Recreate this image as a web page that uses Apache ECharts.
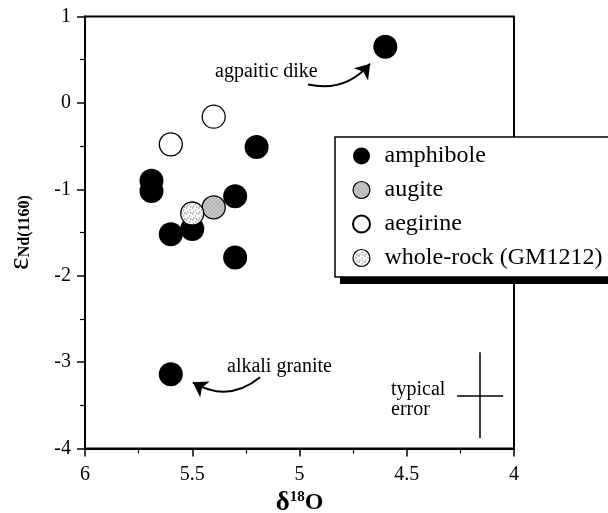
<!DOCTYPE html>
<html>
<head>
<meta charset="utf-8">
<script src="https://cdn.jsdelivr.net/npm/echarts@6/dist/echarts.min.js"></script>
<style>
html,body{margin:0;padding:0;background:#fff;}
#chart{width:608px;height:513px;}
</style>
</head>
<body>
<div id="chart"></div>
<script>
// ---- data ----
var legendNames = ['amphibole', 'augite', 'aegirine', 'whole-rock (GM1212)'];
var amphiboleX = [4.60, 5.69, 5.69, 5.20, 5.30, 5.50, 5.60, 5.30, 5.60];
var amphiboleY = [0.65, -0.90, -1.02, -0.51, -1.08, -1.46, -1.52, -1.79, -3.14];
var augiteX = [5.40];
var augiteY = [-1.21];
var aegirineX = [5.60, 5.40];
var aegirineY = [-0.48, -0.16];
var wholeRockX = [5.50];
var wholeRockY = [-1.28];
var xTicks = [4, 4.5, 5, 5.5, 6];
var yTicks = [-4, -3, -2, -1, 0, 1];
// typical error bar: centre and half-widths
var errCenter = [4.158, -3.384];
var errHalf = [0.107, 0.497];
// annotation arrows (start, end) in data units
var dikeArrow = [[4.960, 0.212], [4.671, 0.454]];
var graniteArrow = [[5.184, -3.176], [5.497, -3.234]];

function zip(xs, ys) { return xs.map(function (x, i) { return [x, ys[i]]; }); }

function pattern(bg, dot, pts, size, scale) {
  var c = document.createElement('canvas');
  c.width = size; c.height = size;
  var g = c.getContext('2d');
  g.fillStyle = bg; g.fillRect(0, 0, size, size);
  g.fillStyle = dot;
  pts.forEach(function (p) { g.fillRect(p[0], p[1], 1, 1); });
  return { image: c, repeat: 'repeat', scaleX: scale, scaleY: scale };
}
var SYM = 23;
// scatter symbols are drawn as a unit path scaled by size/2, so counter-scale the pattern
var augiteFill = pattern('#c6c6c6', '#8a8a8a', [[0, 0], [2, 2]], 4, 2 / SYM);
var wholeFill = pattern('#ffffff', '#333333', [[0, 0], [3, 2], [1, 4], [4, 5]], 6, 2 / SYM);
var augiteLegendFill = pattern('#c6c6c6', '#8a8a8a', [[0, 0], [2, 2]], 4, 1);
var wholeLegendFill = pattern('#ffffff', '#333333', [[0, 0], [3, 2], [1, 4], [4, 5]], 6, 1);

var FONT = 'Liberation Serif';
var chart = echarts.init(document.getElementById('chart'), null, { renderer: 'canvas' });

var option = {
  animation: false,
  backgroundColor: '#fff',
  grid: { left: 85, right: 94, top: 16.5, bottom: 64.5, containLabel: false, outerBoundsMode: 'none',
    show: true, borderColor: '#000', borderWidth: 2, backgroundColor: 'transparent' },
  xAxis: {
    type: 'value', min: 4, max: 6, interval: 0.5, inverse: true,
    name: '{d|δ}{s|18}{o|O}', nameLocation: 'middle', nameGap: 40,
    nameTextStyle: {
      rich: {
        d: { fontSize: 27, fontFamily: FONT, fontWeight: 'bold', color: '#000', lineHeight: 26 },
        s: { fontSize: 15, fontFamily: FONT, fontWeight: 'bold', color: '#000', verticalAlign: 'top', lineHeight: 14 },
        o: { fontSize: 24, fontFamily: FONT, fontWeight: 'bold', color: '#000', lineHeight: 26 }
      }
    },
    axisLine: { show: true, onZero: false, lineStyle: { color: '#000', width: 2 } },
    axisTick: { show: true, inside: false, length: 8, lineStyle: { color: '#000', width: 1.5 } },
    minorTick: { show: true, splitNumber: 2, length: 5, lineStyle: { color: '#000', width: 1.2 } },
    splitLine: { show: false },
    axisLabel: { fontSize: 20, fontFamily: FONT, color: '#000', margin: 16,
      formatter: function (v) { return xTicks.indexOf(v) >= 0 ? String(v) : ''; } }
  },
  yAxis: {
    type: 'value', min: -4, max: 1, interval: 1,
    name: '{e|ε}{s|Nd(1160)}', nameLocation: 'middle', nameGap: 52, nameRotate: 90,
    nameTextStyle: {
      rich: {
        e: { fontSize: 30, fontFamily: FONT, color: '#000', lineHeight: 28, verticalAlign: 'top' },
        s: { fontSize: 16, fontFamily: FONT, fontWeight: 'bold', color: '#000', lineHeight: 12, verticalAlign: 'bottom' }
      }
    },
    axisLine: { show: true, onZero: false, lineStyle: { color: '#000', width: 2 } },
    axisTick: { show: true, inside: false, length: 8, lineStyle: { color: '#000', width: 1.5 } },
    minorTick: { show: true, splitNumber: 2, length: 5, lineStyle: { color: '#000', width: 1.2 } },
    splitLine: { show: false },
    axisLabel: { fontSize: 20, fontFamily: FONT, color: '#000', margin: 14,
      formatter: function (v) { return yTicks.indexOf(v) >= 0 ? String(v) : ''; } }
  },
  legend: {
    orient: 'vertical', left: 335, top: 137, z: 5,
    data: [
      { name: legendNames[0] },
      { name: legendNames[1], itemStyle: { color: augiteLegendFill, borderColor: '#000', borderWidth: 1.2 } },
      { name: legendNames[2] },
      { name: legendNames[3], itemStyle: { color: wholeLegendFill, borderColor: '#000', borderWidth: 1.2 } }
    ],
    backgroundColor: '#fff', borderColor: '#000', borderWidth: 1.5,
    padding: [7, 30, 7, 17], itemGap: 10, itemWidth: 30, itemHeight: 17,
    textStyle: { fontSize: 24, fontFamily: FONT, color: '#000', padding: [0, 0, 0, 3] },
    selectedMode: false
  },
  series: [
    { name: 'amphibole', type: 'scatter', symbol: 'circle', symbolSize: 24,
      itemStyle: { color: '#000', borderColor: '#000', borderWidth: 0, opacity: 1 },
      data: zip(amphiboleX, amphiboleY), z: 2 },
    { name: 'augite', type: 'scatter', symbol: 'circle', symbolSize: SYM,
      itemStyle: { color: augiteFill, borderColor: '#000', borderWidth: 1.3, opacity: 1 },
      data: zip(augiteX, augiteY), z: 3 },
    { name: 'aegirine', type: 'scatter', symbol: 'circle', symbolSize: SYM,
      itemStyle: { color: '#fff', borderColor: '#000', borderWidth: 1.3, opacity: 1 },
      data: zip(aegirineX, aegirineY), z: 3 },
    { name: 'whole-rock (GM1212)', type: 'scatter', symbol: 'circle', symbolSize: SYM,
      itemStyle: { color: wholeFill, borderColor: '#000', borderWidth: 1.3, opacity: 1 },
      data: zip(wholeRockX, wholeRockY), z: 4 },
    { name: 'error', type: 'lines', coordinateSystem: 'cartesian2d', silent: true,
      symbol: ['none', 'none'],
      lineStyle: { color: '#000', width: 1.5, opacity: 1 },
      data: [
        { coords: [[errCenter[0] - errHalf[0], errCenter[1]], [errCenter[0] + errHalf[0], errCenter[1]]] },
        { coords: [[errCenter[0], errCenter[1] - errHalf[1]], [errCenter[0], errCenter[1] + errHalf[1]]] }
      ] },
    { name: 'arrows', type: 'lines', coordinateSystem: 'cartesian2d', silent: true,
      symbol: ['none', 'arrow'], symbolSize: [11, 14],
      lineStyle: { color: '#000', width: 2, opacity: 1 },
      data: [
        { coords: dikeArrow, lineStyle: { curveness: -0.3 } },
        { coords: graniteArrow, lineStyle: { curveness: 0.35 } }
      ] }
  ],
  graphic: [
    { type: 'rect', z: 3, silent: true, shape: { x: 340, y: 143, width: 290, height: 141 }, style: { fill: '#000' } },
    { type: 'text', x: 215, y: 72, silent: true,
      style: { text: 'agpaitic dike', fontSize: 20, fontFamily: FONT, fill: '#000', verticalAlign: 'middle', align: 'left' } },
    { type: 'text', x: 227, y: 367, silent: true,
      style: { text: 'alkali granite', fontSize: 20, fontFamily: FONT, fill: '#000', verticalAlign: 'middle', align: 'left' } },
    { type: 'text', x: 391, y: 380, silent: true,
      style: { text: 'typical\nerror', fontSize: 20, lineHeight: 20, fontFamily: FONT, fill: '#000', verticalAlign: 'top', align: 'left' } }
  ]
};
chart.setOption(option);
</script>
</body>
</html>
